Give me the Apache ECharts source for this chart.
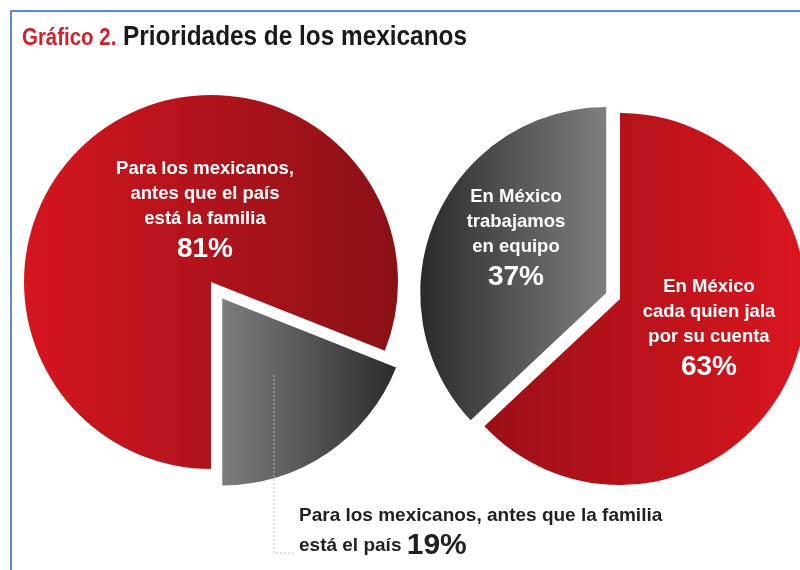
<!DOCTYPE html>
<html>
<head>
<meta charset="utf-8">
<script src="https://cdn.jsdelivr.net/npm/echarts@6/dist/echarts.min.js"></script>
<style>
html,body{margin:0;padding:0;background:#fff;}
#chart{width:800px;height:570px;}
</style>
</head>
<body>
<div id="chart"></div>
<script>
// ---- data ----
var titleLead = 'Gráfico 2.';
var titleMain = 'Prioridades de los mexicanos';

var leftCategories = ['Para los mexicanos, antes que el país está la familia', 'Para los mexicanos, antes que la familia está el país'];
var leftValues = [81, 19];
var leftLabelLines = [
  ['Para los mexicanos,', 'antes que el país', 'está la familia'],
  ['Para los mexicanos, antes que la familia', 'está el país ']
];

var rightCategories = ['En México cada quien jala por su cuenta', 'En México trabajamos en equipo'];
var rightValues = [63, 37];
var rightLabelLines = [
  ['En México', 'cada quien jala', 'por su cuenta'],
  ['En México', 'trabajamos', 'en equipo']
];

// ---- styling ----
var FONT = '"Liberation Sans", Arial, Helvetica, sans-serif';

function grad(c1, c2) {
  return {type: 'linear', x: 0, y: 0, x2: 1, y2: 0, colorStops: [{offset: 0, color: c1}, {offset: 1, color: c2}]};
}
function insideLabel(lines, value) {
  return lines.map(function (l) { return '{t|' + l + '}'; }).join('\n') + '\n{p|' + value + '%}';
}
var insideRich = {
  t: {fontFamily: FONT, fontWeight: 'bold', fontSize: 18.5, color: '#fff', lineHeight: 25, align: 'center'},
  p: {fontFamily: FONT, fontWeight: 'bold', fontSize: 28, color: '#fff', lineHeight: 36, align: 'center'}
};
var bottomRich = {
  t: {fontFamily: FONT, fontWeight: 'bold', fontSize: 19, color: '#231f20', lineHeight: 26, align: 'left'},
  s: {fontFamily: FONT, fontWeight: 'bold', fontSize: 19, color: '#231f20', lineHeight: 34, align: 'left'},
  p: {fontFamily: FONT, fontWeight: 'bold', fontSize: 30, color: '#231f20', lineHeight: 34, align: 'left'}
};

// offset of an exploded slice along its bisector (clockwise pie)
function explodedCenter(center, startAngle, values, idx, dist) {
  var total = values.reduce(function (a, b) { return a + b; }, 0);
  var prev = 0;
  for (var i = 0; i < idx; i++) prev += values[i];
  var a0 = startAngle - 360 * prev / total;
  var a1 = a0 - 360 * values[idx] / total;
  var mid = (a0 + a1) / 2 * Math.PI / 180;
  return [center[0] + dist * Math.cos(mid), center[1] - dist * Math.sin(mid)];
}

var leftCenter = [211, 282], leftStart = 270, leftR = 187;
var rightCenter = [620, 299], rightStart = 90, rightR = 186;

var leftColors = [grad('#d5151f', '#8a1117'), grad('#7d7d7f', '#2c2c2e')];
var rightColors = [grad('#9b0f17', '#da161f'), grad('#2a2a2c', '#7f7f81')];

var leftLabels = [
  {formatter: insideLabel(leftLabelLines[0], leftValues[0]), rich: insideRich},
  {formatter: '{t|' + leftLabelLines[1][0] + '}\n{s|' + leftLabelLines[1][1] + '}{p|' + leftValues[1] + '%}', rich: bottomRich}
];
var rightLabels = [
  {formatter: insideLabel(rightLabelLines[0], rightValues[0]), rich: insideRich},
  {formatter: insideLabel(rightLabelLines[1], rightValues[1]), rich: insideRich}
];

var leftLabelPos = [{x: 205, y: 156.5, align: 'center', verticalAlign: 'top'}, {x: 299, y: 503, align: 'left', verticalAlign: 'top'}];
var rightLabelPos = [{x: 709, y: 274.5, align: 'center', verticalAlign: 'top'}, {x: 516, y: 184.5, align: 'center', verticalAlign: 'top'}];

// build a pie layer that shows only the slice at index `show`
function pieLayer(values, names, colors, labels, labelPos, center, startAngle, radius, show) {
  return {
    type: 'pie',
    center: center,
    radius: radius,
    startAngle: startAngle,
    clockwise: true,
    avoidLabelOverlap: false,
    silent: true,
    labelLine: {show: false},
    labelLayout: function (p) { return labelPos[p.dataIndex]; },
    emphasis: {disabled: true},
    itemStyle: {borderWidth: 0},
    data: values.map(function (v, i) {
      var on = i === show;
      var item = {value: v, name: names[i], itemStyle: {color: on ? colors[i] : 'rgba(0,0,0,0)'}};
      item.label = on ? Object.assign({show: true, position: 'inside'}, labels[i]) : {show: false};
      return item;
    })
  };
}

var chart = echarts.init(document.getElementById('chart'), null, {renderer: 'canvas'});

chart.setOption({
  animation: false,
  graphic: [
    {type: 'line', shape: {x1: 10, y1: 11, x2: 800, y2: 11}, style: {stroke: '#5b8cd2', lineWidth: 2}, silent: true},
    {type: 'line', shape: {x1: 11, y1: 11, x2: 11, y2: 570}, style: {stroke: '#5b8cd2', lineWidth: 2}, silent: true},
    {
      type: 'text', x: 22, y: 36, scaleX: 0.87, silent: true,
      style: {
        text: '{a|' + titleLead + '}{b| ' + titleMain + '}',
        verticalAlign: 'middle',
        rich: {
          a: {fontFamily: FONT, fontWeight: 'bold', fontSize: 23.5, fill: '#d0202e', verticalAlign: 'bottom', lineHeight: 30},
          b: {fontFamily: FONT, fontWeight: 'bold', fontSize: 28, fill: '#1a1a1a', verticalAlign: 'bottom', lineHeight: 30}
        }
      }
    },
    {type: 'polyline', z: 10, shape: {points: [[274, 375], [274, 553], [293, 553]]}, style: {stroke: '#bdbdbd', lineWidth: 1, lineDash: [2, 2], fill: null}, silent: true}
  ],
  series: [
    pieLayer(leftValues, leftCategories, leftColors, leftLabels, leftLabelPos, leftCenter, leftStart, leftR, 0),
    pieLayer(leftValues, leftCategories, leftColors, leftLabels, leftLabelPos,
      explodedCenter(leftCenter, leftStart, leftValues, 1, 20), leftStart, leftR, 1),
    pieLayer(rightValues, rightCategories, rightColors, rightLabels, rightLabelPos, rightCenter, rightStart, rightR, 0),
    pieLayer(rightValues, rightCategories, rightColors, rightLabels, rightLabelPos,
      explodedCenter(rightCenter, rightStart, rightValues, 1, 15), rightStart, rightR, 1)
  ]
});
</script>
</body>
</html>
